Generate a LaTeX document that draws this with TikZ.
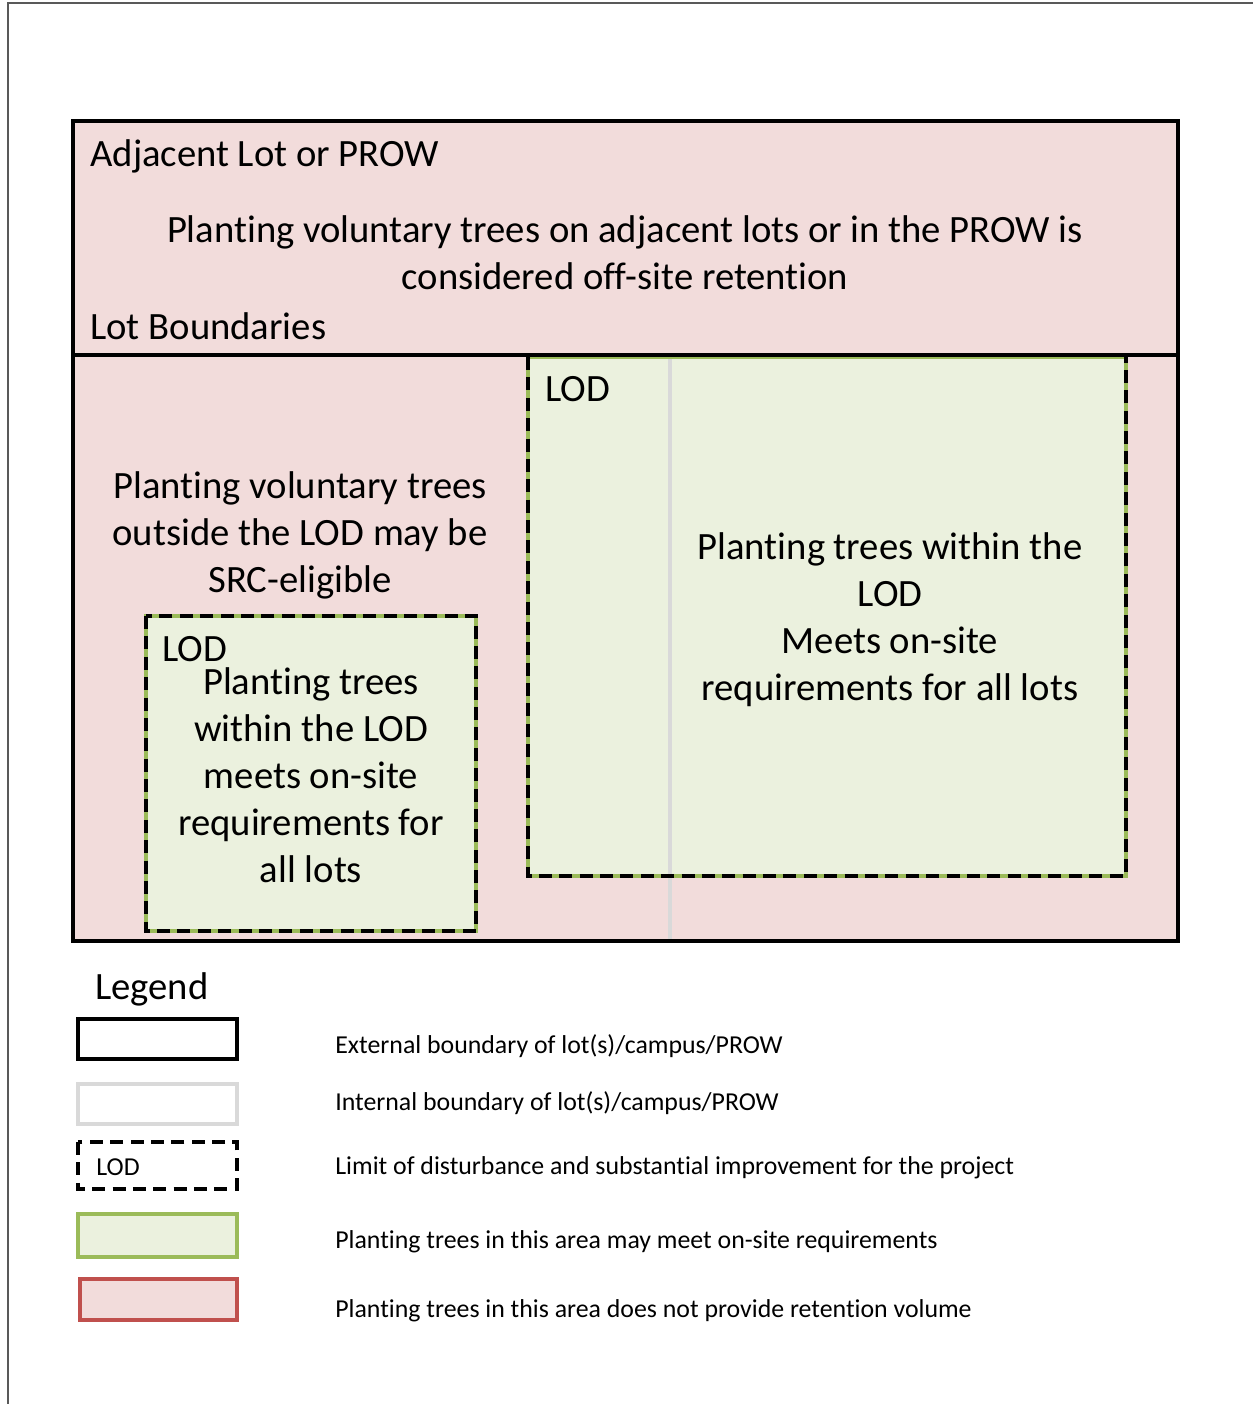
\documentclass[tikz,border=0pt]{standalone}
\usepackage{fontspec}
\setmainfont{Carlito}[Ligatures=NoCommon]
\usepackage{xcolor}
\usetikzlibrary{positioning}
\definecolor{cLot}{HTML}{F2DCDB}
\definecolor{cLOD}{HTML}{EBF1DE}
\definecolor{cGreen}{HTML}{9BBB59}
\definecolor{cRed}{HTML}{C0504D}
\definecolor{cInt}{HTML}{D9D9D9}
\definecolor{cFrame}{HTML}{595959}
\tikzset{
  extbnd/.style={draw=black, line width=2.3pt},
  intbnd/.style={draw=cInt, line width=2pt},
  lodarea/.style={fill=cLOD, draw=cGreen, line width=2.3pt},
  loddash/.style={draw=black, line width=2.3pt, dash pattern=on 7.4pt off 4.2pt},
  lotarea/.style={fill=cLot, draw=cRed, line width=2.3pt},
  txt/.style={font=\fontsize{22}{26.7}\selectfont, inner sep=0pt, align=center},
  lgdtxt/.style={font=\fontsize{14.7}{17}\selectfont, inner sep=0pt, anchor=west}
}
\begin{document}
\begin{tikzpicture}[x=0.02cm, y=-0.02cm]
\useasboundingbox (0,0) rectangle (1253,1404);
% ----- page frame -----
\draw[cFrame, line width=0.6pt] (8,1404) -- (8,3) -- (1253,3);
% ----- lots and LOD areas -----
\fill[cLot] (73,121) rectangle (1178,941);
\fill[cLOD] (528,357) rectangle (1126,876);
\fill[cLOD] (146,616) rectangle (476,931);
\draw[intbnd] (670,357) -- (670,941);
\draw[draw=cGreen, line width=2.3pt] (528,357) rectangle (1126,876);
\draw[loddash] (528,357) -- (528,876) -- (1126,876) -- (1126,357);
\draw[draw=cGreen, line width=2.3pt] (146,616) rectangle (476,931);
\draw[loddash] (146,616) rectangle (476,931);
\draw[extbnd] (73,121) rectangle (1178,941);
\draw[extbnd] (73,355) -- (1178,355);
% ----- texts -----
\node[txt, anchor=west] (adj) at (90,156) {Adjacent Lot or PROW};
\node[txt] (offsite) at (625,253) {Planting voluntary trees on adjacent lots or in the PROW is\\considered off-site retention};
\node[txt, anchor=west] (lotb) at (90,326) {Lot Boundaries};
\node[txt] (src) at (300,535) {Planting voluntary trees\\outside the LOD may be\\SRC-eligible};
\node[txt, anchor=west] (lodr) at (545,389) {LOD};
\node[txt] (onsiter) at (890,620) {Planting trees within the\\LOD\\Meets on-site\\requirements for all lots};
\node[txt, anchor=west] (lodl) at (162,649) {LOD};
\node[txt] (onsitel) at (311,775) {Planting trees\\within the LOD\\meets on-site\\requirements for\\all lots};
% ----- legend -----
\node[txt, anchor=west] (lgd) at (95,989) {Legend};
\draw[extbnd] (78,1019) rectangle (237,1059);
\draw[draw=cInt, line width=2.3pt] (78,1084) rectangle (237,1124);
\draw[loddash] (78,1142) rectangle (237,1189);
\node[lgdtxt] (lodk) at (96,1167) {LOD};
\draw[lodarea] (78,1214) rectangle (237,1257);
\draw[lotarea] (80,1279) rectangle (237,1320);
\node[lgdtxt] (k1) at (335,1046) {External boundary of lot(s)/campus/PROW};
\node[lgdtxt] (k2) at (335,1103) {Internal boundary of lot(s)/campus/PROW};
\node[lgdtxt] (k3) at (335,1168) {Limit of disturbance and substantial improvement for the project};
\node[lgdtxt] (k4) at (335,1242) {Planting trees in this area may meet on-site requirements};
\node[lgdtxt] (k5) at (335,1311) {Planting trees in this area does not provide retention volume};
\end{tikzpicture}
\end{document}
